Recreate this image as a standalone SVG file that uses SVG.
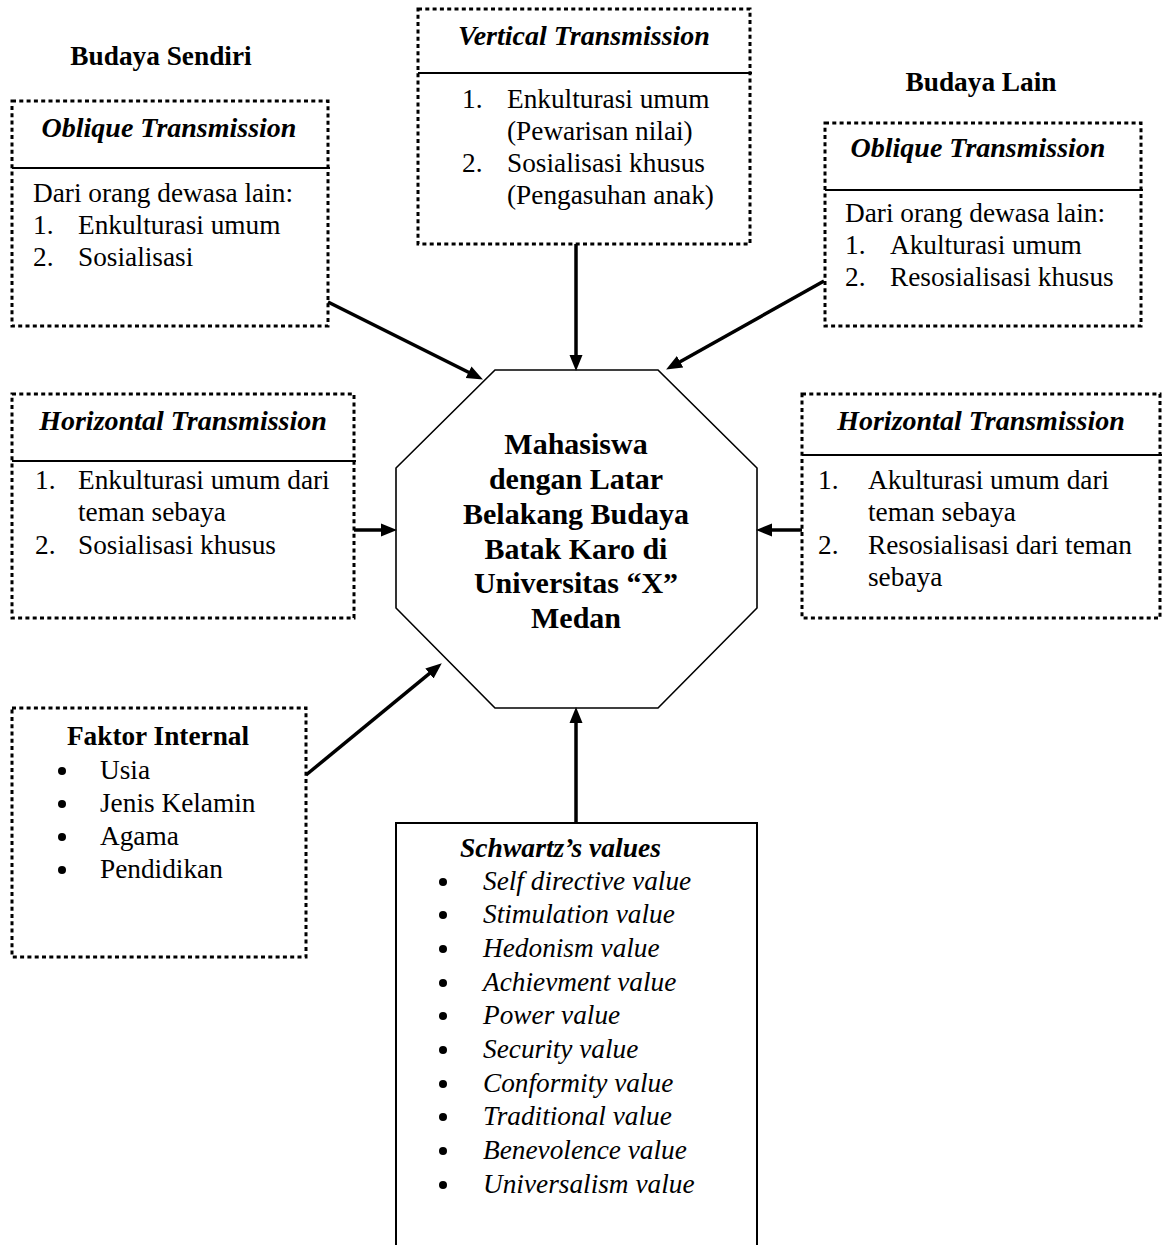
<svg xmlns="http://www.w3.org/2000/svg" width="1163" height="1245" viewBox="0 0 1163 1245">
<style>
text{font-family:"Liberation Serif","Times New Roman",serif;fill:#000}
.b{font-size:27.3px}
.bold{font-size:27.3px;font-weight:bold}
.hd{font-size:28px;font-weight:bold;font-style:italic}
.it{font-size:27.3px;font-style:italic}
.oct{font-size:30px;font-weight:bold;text-anchor:middle}
.c{text-anchor:middle}
.dot{fill:none;stroke:#000;stroke-width:3;stroke-dasharray:4 3.3}
.div{stroke:#000;stroke-width:2}
.solid{fill:none;stroke:#000;stroke-width:2}
.conn line{stroke:#000;stroke-width:3.5}
</style>
<defs>
<marker id="ah" markerUnits="userSpaceOnUse" markerWidth="20" markerHeight="16" refX="1" refY="7" orient="auto" viewBox="0 0 20 14">
<path d="M0,0.5 L16,7 L0,13.5 z" fill="#000"/>
</marker>
</defs>
<rect width="1163" height="1245" fill="#fff"/>

<text class="bold c" x="161" y="65">Budaya Sendiri</text>
<text class="bold c" x="981" y="91">Budaya Lain</text>

<g id="oblique-left">
<rect class="dot" x="12" y="101" width="316" height="225"/>
<line class="div" x1="12" y1="168" x2="330" y2="168"/>
<text class="hd c" x="169" y="137">Oblique Transmission</text>
<text class="b" x="33" y="202">Dari orang dewasa lain:</text>
<text class="b" x="33" y="234">1.</text><text class="b" x="78" y="234">Enkulturasi umum</text>
<text class="b" x="33" y="266">2.</text><text class="b" x="78" y="266">Sosialisasi</text>
</g>

<g id="vertical">
<rect class="dot" x="418" y="9" width="332" height="235"/>
<line class="div" x1="418" y1="73" x2="752" y2="73"/>
<text class="hd c" x="584" y="45">Vertical Transmission</text>
<text class="b" x="462" y="108">1.</text><text class="b" x="507" y="108">Enkulturasi umum</text>
<text class="b" x="507" y="140">(Pewarisan nilai)</text>
<text class="b" x="462" y="172">2.</text><text class="b" x="507" y="172">Sosialisasi khusus</text>
<text class="b" x="507" y="204">(Pengasuhan anak)</text>
</g>

<g id="oblique-right">
<rect class="dot" x="825" y="123" width="316" height="203"/>
<line class="div" x1="825" y1="190" x2="1143" y2="190"/>
<text class="hd c" x="978" y="157">Oblique Transmission</text>
<text class="b" x="845" y="222">Dari orang dewasa lain:</text>
<text class="b" x="845" y="254">1.</text><text class="b" x="890" y="254">Akulturasi umum</text>
<text class="b" x="845" y="286">2.</text><text class="b" x="890" y="286">Resosialisasi khusus</text>
</g>

<g id="horizontal-left">
<rect class="dot" x="12" y="394" width="342" height="224"/>
<line class="div" x1="12" y1="461" x2="356" y2="461"/>
<text class="hd c" x="183" y="430">Horizontal Transmission</text>
<text class="b" x="35" y="489">1.</text><text class="b" x="78" y="489">Enkulturasi umum dari</text>
<text class="b" x="78" y="521">teman sebaya</text>
<text class="b" x="35" y="554">2.</text><text class="b" x="78" y="554">Sosialisasi khusus</text>
</g>

<g id="horizontal-right">
<rect class="dot" x="802" y="394" width="358" height="224"/>
<line class="div" x1="802" y1="455" x2="1162" y2="455"/>
<text class="hd c" x="981" y="430">Horizontal Transmission</text>
<text class="b" x="818" y="489">1.</text><text class="b" x="868" y="489">Akulturasi umum dari</text>
<text class="b" x="868" y="521">teman sebaya</text>
<text class="b" x="818" y="554">2.</text><text class="b" x="868" y="554">Resosialisasi dari teman</text>
<text class="b" x="868" y="586">sebaya</text>
</g>

<g id="center">
<polygon points="495,370 658,370 757,468 757,608 658,708 495,708 396,608 396,468" fill="#fff" stroke="#000" stroke-width="1.6"/>
<text class="oct" x="576" y="454">Mahasiswa</text>
<text class="oct" x="576" y="489">dengan Latar</text>
<text class="oct" x="576" y="524">Belakang Budaya</text>
<text class="oct" x="576" y="559">Batak Karo di</text>
<text class="oct" x="576" y="593">Universitas “X”</text>
<text class="oct" x="576" y="628">Medan</text>
</g>

<g id="faktor-internal">
<rect class="dot" x="12" y="708" width="294" height="249"/>
<text class="bold c" x="158" y="745">Faktor Internal</text>
<circle cx="62" cy="771" r="4"/><text class="b" x="100" y="779">Usia</text>
<circle cx="62" cy="804" r="4"/><text class="b" x="100" y="812">Jenis Kelamin</text>
<circle cx="62" cy="837" r="4"/><text class="b" x="100" y="845">Agama</text>
<circle cx="62" cy="870" r="4"/><text class="b" x="100" y="878">Pendidikan</text>
</g>

<g id="schwartz">
<rect class="solid" x="396" y="823" width="361" height="440"/>
<text class="hd" style="font-size:27.6px" x="460" y="857">Schwartz’s values</text>
<g>
<circle cx="443" cy="882" r="4"/><text class="it" x="483" y="890">Self directive value</text>
<circle cx="443" cy="915" r="4"/><text class="it" x="483" y="923">Stimulation value</text>
<circle cx="443" cy="949" r="4"/><text class="it" x="483" y="957">Hedonism value</text>
<circle cx="443" cy="983" r="4"/><text class="it" x="483" y="991">Achievment value</text>
<circle cx="443" cy="1016" r="4"/><text class="it" x="483" y="1024">Power value</text>
<circle cx="443" cy="1050" r="4"/><text class="it" x="483" y="1058">Security value</text>
<circle cx="443" cy="1084" r="4"/><text class="it" x="483" y="1092">Conformity value</text>
<circle cx="443" cy="1117" r="4"/><text class="it" x="483" y="1125">Traditional value</text>
<circle cx="443" cy="1151" r="4"/><text class="it" x="483" y="1159">Benevolence value</text>
<circle cx="443" cy="1185" r="4"/><text class="it" x="483" y="1193">Universalism value</text>
</g>
</g>

<g id="connectors" class="conn">
<line x1="328" y1="302" x2="469.5" y2="372.7" marker-end="url(#ah)"/>
<line x1="576" y1="244" x2="576" y2="356" marker-end="url(#ah)"/>
<line x1="824" y1="281" x2="679.2" y2="362.2" marker-end="url(#ah)"/>
<line x1="354" y1="530" x2="382" y2="530" marker-end="url(#ah)"/>
<line x1="802" y1="530" x2="771" y2="530" marker-end="url(#ah)"/>
<line x1="306" y1="775" x2="430.2" y2="672.9" marker-end="url(#ah)"/>
<line x1="576" y1="823" x2="576" y2="722" marker-end="url(#ah)"/>
</g>
</svg>
